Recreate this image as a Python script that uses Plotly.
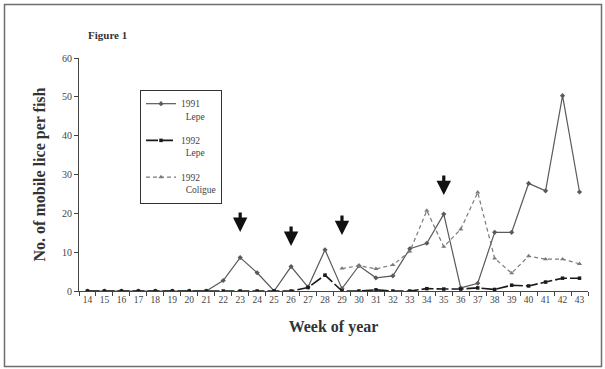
import plotly.graph_objects as go

# Week numbers on the x axis
weeks = [str(w) for w in range(14, 44)]

# Mean number of mobile lice per fish, by week
lepe_1991 = [0, 0, 0, 0, 0, 0, 0, 0, 2.7, 8.6, 4.7, 0, 6.3, 1.0, 10.6, 0.6,
             6.5, 3.4, 3.9, 10.9, 12.3, 19.8, 0.8, 2.0, 15.1, 15.1, 27.7, 25.8, 50.3, 25.5]
lepe_1992 = [0, 0, 0, 0, 0, 0, 0, 0, 0, 0, 0, 0, 0, 0.9, 4.1, 0,
             0, 0.3, 0, 0, 0.6, 0.5, 0.5, 0.8, 0.4, 1.5, 1.3, 2.3, 3.3, 3.3]
coligue_1992 = [None] * 15 + [5.8, 6.5, 5.7, 6.7, 10.2, 20.7, 11.4, 15.9, 25.4,
                              8.4, 4.6, 9.0, 8.2, 8.2, 7.0]

# Weeks marked with an arrow, and the value the arrow points down to
arrow_weeks = ["23", "26", "29", "35"]
arrow_tips = [15.2, 11.6, 14.4, 24.7]

W, H = 605, 369
L, R, T, B = 79, 17, 58, 78
PW, PH = W - L - R, H - T - B

SERIF = "Liberation Serif"

fig = go.Figure()
fig.add_trace(go.Scatter(
    x=weeks, y=lepe_1991, name="1991<br>  Lepe", legendgroup="a",
    mode="lines+markers",
    line=dict(color="#5a5a5a", width=1.2),
    marker=dict(symbol="diamond", size=4, color="#5a5a5a"),
))
fig.add_trace(go.Scatter(
    x=weeks, y=lepe_1992, name="1992<br>  Lepe", legendgroup="b",
    mode="lines+markers",
    line=dict(color="#1a1a1a", width=1.6, dash="12px,3px"),
    marker=dict(symbol="square", size=3.5, color="#1a1a1a"),
))
fig.add_trace(go.Scatter(
    x=weeks, y=coligue_1992, name="1992<br>  Coligue", legendgroup="c",
    mode="lines+markers",
    line=dict(color="#7a7a7a", width=1.2, dash="4px,3px"),
    marker=dict(symbol="triangle-up", size=4.5, color="#7a7a7a"),
))

# Down arrows; on a category axis the annotation x is the category index
for wk, tip in zip(arrow_weeks, arrow_tips):
    fig.add_annotation(
        x=weeks.index(wk), y=tip, xref="x", yref="y", text="",
        showarrow=True, ax=0, ay=-21,
        arrowhead=2, arrowsize=0.9, arrowwidth=3.2, arrowcolor="#111111",
    )

# Caption above the plot
fig.add_annotation(
    x=(86 - L) / PW, y=(H - B - 35) / PH, xref="paper", yref="paper",
    xanchor="left", yanchor="middle", showarrow=False,
    text="<b>Figure 1</b>", font=dict(family=SERIF, size=11, color="#333333"),
)

# Frame round the whole figure
fig.add_shape(
    type="rect", xref="paper", yref="paper",
    x0=(4.5 - L) / PW, x1=(601.5 - L) / PW,
    y0=(H - B - 366.5) / PH, y1=(H - B - 4.5) / PH,
    line=dict(color="#6e6e6e", width=1.5),
)

fig.update_layout(
    width=W, height=H,
    margin=dict(l=L, r=R, t=T, b=B),
    paper_bgcolor="white", plot_bgcolor="white",
    font=dict(family=SERIF, size=10, color="#333333"),
    showlegend=True,
    legend=dict(
        x=(140 - L) / PW, y=(H - B - 90) / PH, xanchor="left", yanchor="top",
        bordercolor="#333333", borderwidth=1, bgcolor="white",
        font=dict(family=SERIF, size=9.5, color="#444444"),
        tracegroupgap=9, valign="top", itemwidth=30,
    ),
    xaxis=dict(
        type="category", range=[-0.5, 29.5],
        showline=True, linecolor="#444444", linewidth=1,
        ticks="outside", tickson="boundaries", ticklen=4, tickcolor="#444444",
        showgrid=False, zeroline=False, tickangle=0,
        tickfont=dict(family=SERIF, size=9.5, color="#444444"),
        title=dict(text="<b>Week of year</b>", standoff=16,
                   font=dict(family=SERIF, size=16, color="#333333")),
    ),
    yaxis=dict(
        range=[0, 60], tickvals=[0, 10, 20, 30, 40, 50, 60],
        showline=True, linecolor="#444444", linewidth=1,
        ticks="outside", ticklen=4, tickcolor="#444444",
        showgrid=False, zeroline=False,
        tickfont=dict(family=SERIF, size=10, color="#444444"),
        title=dict(text="<b>No. of mobile lice per fish</b>", standoff=12,
                   font=dict(family=SERIF, size=16, color="#333333")),
    ),
)

fig.write_html("out.html")
